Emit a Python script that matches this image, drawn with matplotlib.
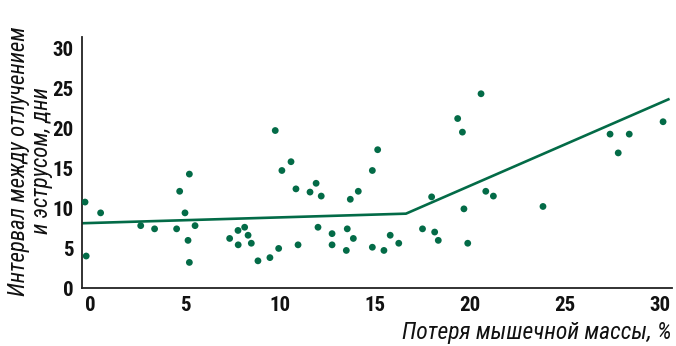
import matplotlib
matplotlib.use("Agg")
import matplotlib.pyplot as plt

font = ["Roboto Condensed", "DejaVu Sans"]

muscle_loss = [-0.26, -0.2, 0.56, 2.67, 3.4, 4.56, 4.72, 5.0, 5.23, 5.53, 5.16, 5.23,
               7.35, 7.79, 7.8, 8.14, 8.32, 8.49, 8.84, 9.47, 9.75, 9.93, 10.1, 10.58,
               10.84, 10.95, 11.58, 11.9, 12.0, 12.17, 12.74, 12.74, 13.54, 13.49, 13.86,
               13.7, 14.12, 14.86, 15.14, 14.86, 15.47, 15.8, 16.25, 17.5, 17.98, 18.14,
               18.33, 19.35, 19.6, 19.68, 19.88, 20.58, 20.83, 21.23, 23.84, 27.37, 27.8,
               28.38, 30.16]
interval = [10.75, 4.0, 9.4, 7.8, 7.4, 7.4, 12.1, 9.4, 14.25, 7.8, 5.96, 3.2,
            6.2, 7.2, 5.4, 7.6, 6.6, 5.6, 3.4, 3.8, 19.7, 4.95, 14.7, 15.8,
            12.4, 5.4, 12.0, 13.1, 7.6, 11.5, 6.8, 5.4, 7.4, 4.7, 6.2,
            11.1, 12.1, 14.7, 17.3, 5.1, 4.7, 6.6, 5.6, 7.4, 11.4, 7.0,
            5.96, 21.2, 19.5, 9.9, 5.6, 24.3, 12.1, 11.5, 10.2, 19.25, 16.9,
            19.25, 20.8]
fit_x = [-0.42, 16.63, 30.44]
fit_y = [8.1, 9.3, 23.6]
x_ticks = [0, 5, 10, 15, 20, 25, 30]
y_ticks = [0, 5, 10, 15, 20, 25, 30]

green = "#036b47"
fig = plt.figure(figsize=(6.76, 3.46), dpi=100)
ax = fig.add_axes([82/676, 58/346, 590/676, 251/346])
ax.scatter(muscle_loss, interval, s=24, color=green, edgecolors="none", zorder=3)
ax.plot(fit_x, fit_y, color=green, lw=1.9, zorder=2)
ax.set_xlim(-0.42, 30.63)
ax.set_ylim(0, 31.4)
ax.set_xticks(x_ticks)
ax.set_yticks(y_ticks)
for s in ["top", "right"]:
    ax.spines[s].set_visible(False)
for s in ["left", "bottom"]:
    ax.spines[s].set_color("#222222")
    ax.spines[s].set_linewidth(1.3)
ax.tick_params(length=0, pad=6)
for lab in ax.get_xticklabels() + ax.get_yticklabels():
    lab.set_fontfamily(font)
    lab.set_fontweight(900)
    lab.set_fontsize(15)
    lab.set_color("#111111")
fig.text(672/676, 1 - 333/346, "Потеря мышечной массы, %", ha="right", va="center",
         fontfamily=font, fontstyle="italic", fontsize=17, color="#111111")
fig.text(30/676, 1 - 161/346, "Интервал между отлучением\nи эструсом, дни", ha="center",
         va="center", rotation=90, fontfamily=font, fontstyle="italic", fontsize=16.5,
         color="#111111", linespacing=1.0)
fig.savefig("out.png", dpi=100)
